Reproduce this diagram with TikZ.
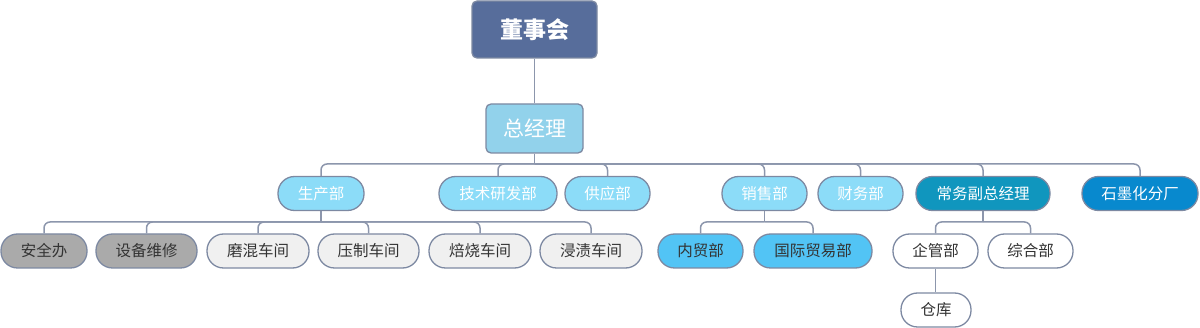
\documentclass[tikz,border=0pt]{standalone}
\usepackage{fontspec}
\newfontfamily\cjk{Noto Sans CJK SC}
\definecolor{cDsh}{RGB}{87,109,155}
\definecolor{cZjl}{RGB}{146,210,235}
\definecolor{cLv}{RGB}{140,220,248}
\definecolor{cCw}{RGB}{16,150,190}
\definecolor{cSm}{RGB}{8,137,206}
\definecolor{cNm}{RGB}{82,196,245}
\definecolor{cGray}{RGB}{170,170,170}
\definecolor{cLight}{RGB}{240,240,240}
\definecolor{cBorder}{RGB}{125,137,162}
\definecolor{cLine}{RGB}{140,150,172}
\definecolor{cText}{RGB}{51,51,51}
\tikzset{
  box/.style={draw=cBorder, line width=1.3pt, inner sep=0pt, font=\cjk},
  topbox/.style={box, rounded corners=5pt, fill=cDsh, text=white, minimum width=125pt, minimum height=57pt, font=\cjk\fontsize{23}{26}\selectfont\bfseries},
  gmbox/.style={box, rounded corners=5pt, fill=cZjl, text=white, minimum width=97pt, minimum height=49pt, font=\cjk\fontsize{21}{24}\selectfont},
  pill/.style={box, rounded corners=16.5pt, minimum height=34pt, font=\cjk\fontsize{15.5}{18}\selectfont},
  lvtwo/.style={pill, fill=cLv, text=white},
  lvthree/.style={pill, text=cText},
  conn/.style={draw=cLine, line width=1.5pt, rounded corners=6pt}
}
\begin{document}
\begin{tikzpicture}[x=1pt,y=-1pt]
\useasboundingbox (0,0) rectangle (1200,328);
% top
\node[topbox] (dsh) at (534.5,29.5) {董事会};
\node[gmbox] (zjl) at (534.5,128.5) {总经理};
% level 2
\node[lvtwo, minimum width=86pt] (sc) at (321,193.5) {生产部};
\node[lvtwo, minimum width=118pt] (js) at (498,193.5) {技术研发部};
\node[lvtwo, minimum width=85pt] (gy) at (607.5,193.5) {供应部};
\node[lvtwo, minimum width=85pt] (xs) at (764.5,193.5) {销售部};
\node[lvtwo, minimum width=85pt] (cw) at (860.5,193.5) {财务部};
\node[pill, fill=cCw, text=white, minimum width=134pt] (cwf) at (983,193.5) {常务副总经理};
\node[pill, fill=cSm, text=white, minimum width=116pt] (smh) at (1140,193.5) {石墨化分厂};
% level 3
\node[lvthree, fill=cGray, minimum width=86pt] (aq) at (44,251) {安全办};
\node[lvthree, fill=cGray, minimum width=101pt] (sb) at (146.5,251) {设备维修};
\node[lvthree, fill=cLight, minimum width=102pt] (mh) at (258,251) {磨混车间};
\node[lvthree, fill=cLight, minimum width=101pt] (yz) at (368.5,251) {压制车间};
\node[lvthree, fill=cLight, minimum width=102pt] (bs) at (480,251) {焙烧车间};
\node[lvthree, fill=cLight, minimum width=102pt] (jz) at (591,251) {浸渍车间};
\node[lvthree, fill=cNm, minimum width=85pt] (nm) at (700.5,251) {内贸部};
\node[lvthree, fill=cNm, minimum width=118pt] (gj) at (813,251) {国际贸易部};
\node[lvthree, fill=white, minimum width=85pt] (qg) at (935.5,251) {企管部};
\node[lvthree, fill=white, minimum width=85pt] (zh) at (1030.5,251) {综合部};
\node[lvthree, fill=white, minimum width=70pt] (ck) at (936,310) {仓库};
% connectors
\draw[conn] (dsh.south) -- (zjl.north);
\coordinate (b1) at (534.5,164);
\draw[conn] (zjl.south) -- (b1);
\foreach \c in {sc,js,gy,xs,cw,cwf,smh} {
  \draw[conn] (b1) -| (\c.north);
}
\coordinate (b2) at (321,222);
\draw[conn] (sc.south) -- (b2);
\foreach \c in {aq,sb,mh,yz,bs,jz} {
  \draw[conn] (b2) -| (\c.north);
}
\coordinate (b3) at (764.5,222);
\draw[conn] (xs.south) -- (b3);
\foreach \c in {nm,gj} {
  \draw[conn] (b3) -| (\c.north);
}
\coordinate (b4) at (983,222);
\draw[conn] (cwf.south) -- (b4);
\foreach \c in {qg,zh} {
  \draw[conn] (b4) -| (\c.north);
}
\draw[conn] (qg.south) -- (qg.south |- ck.north);
\end{tikzpicture}
\end{document}
